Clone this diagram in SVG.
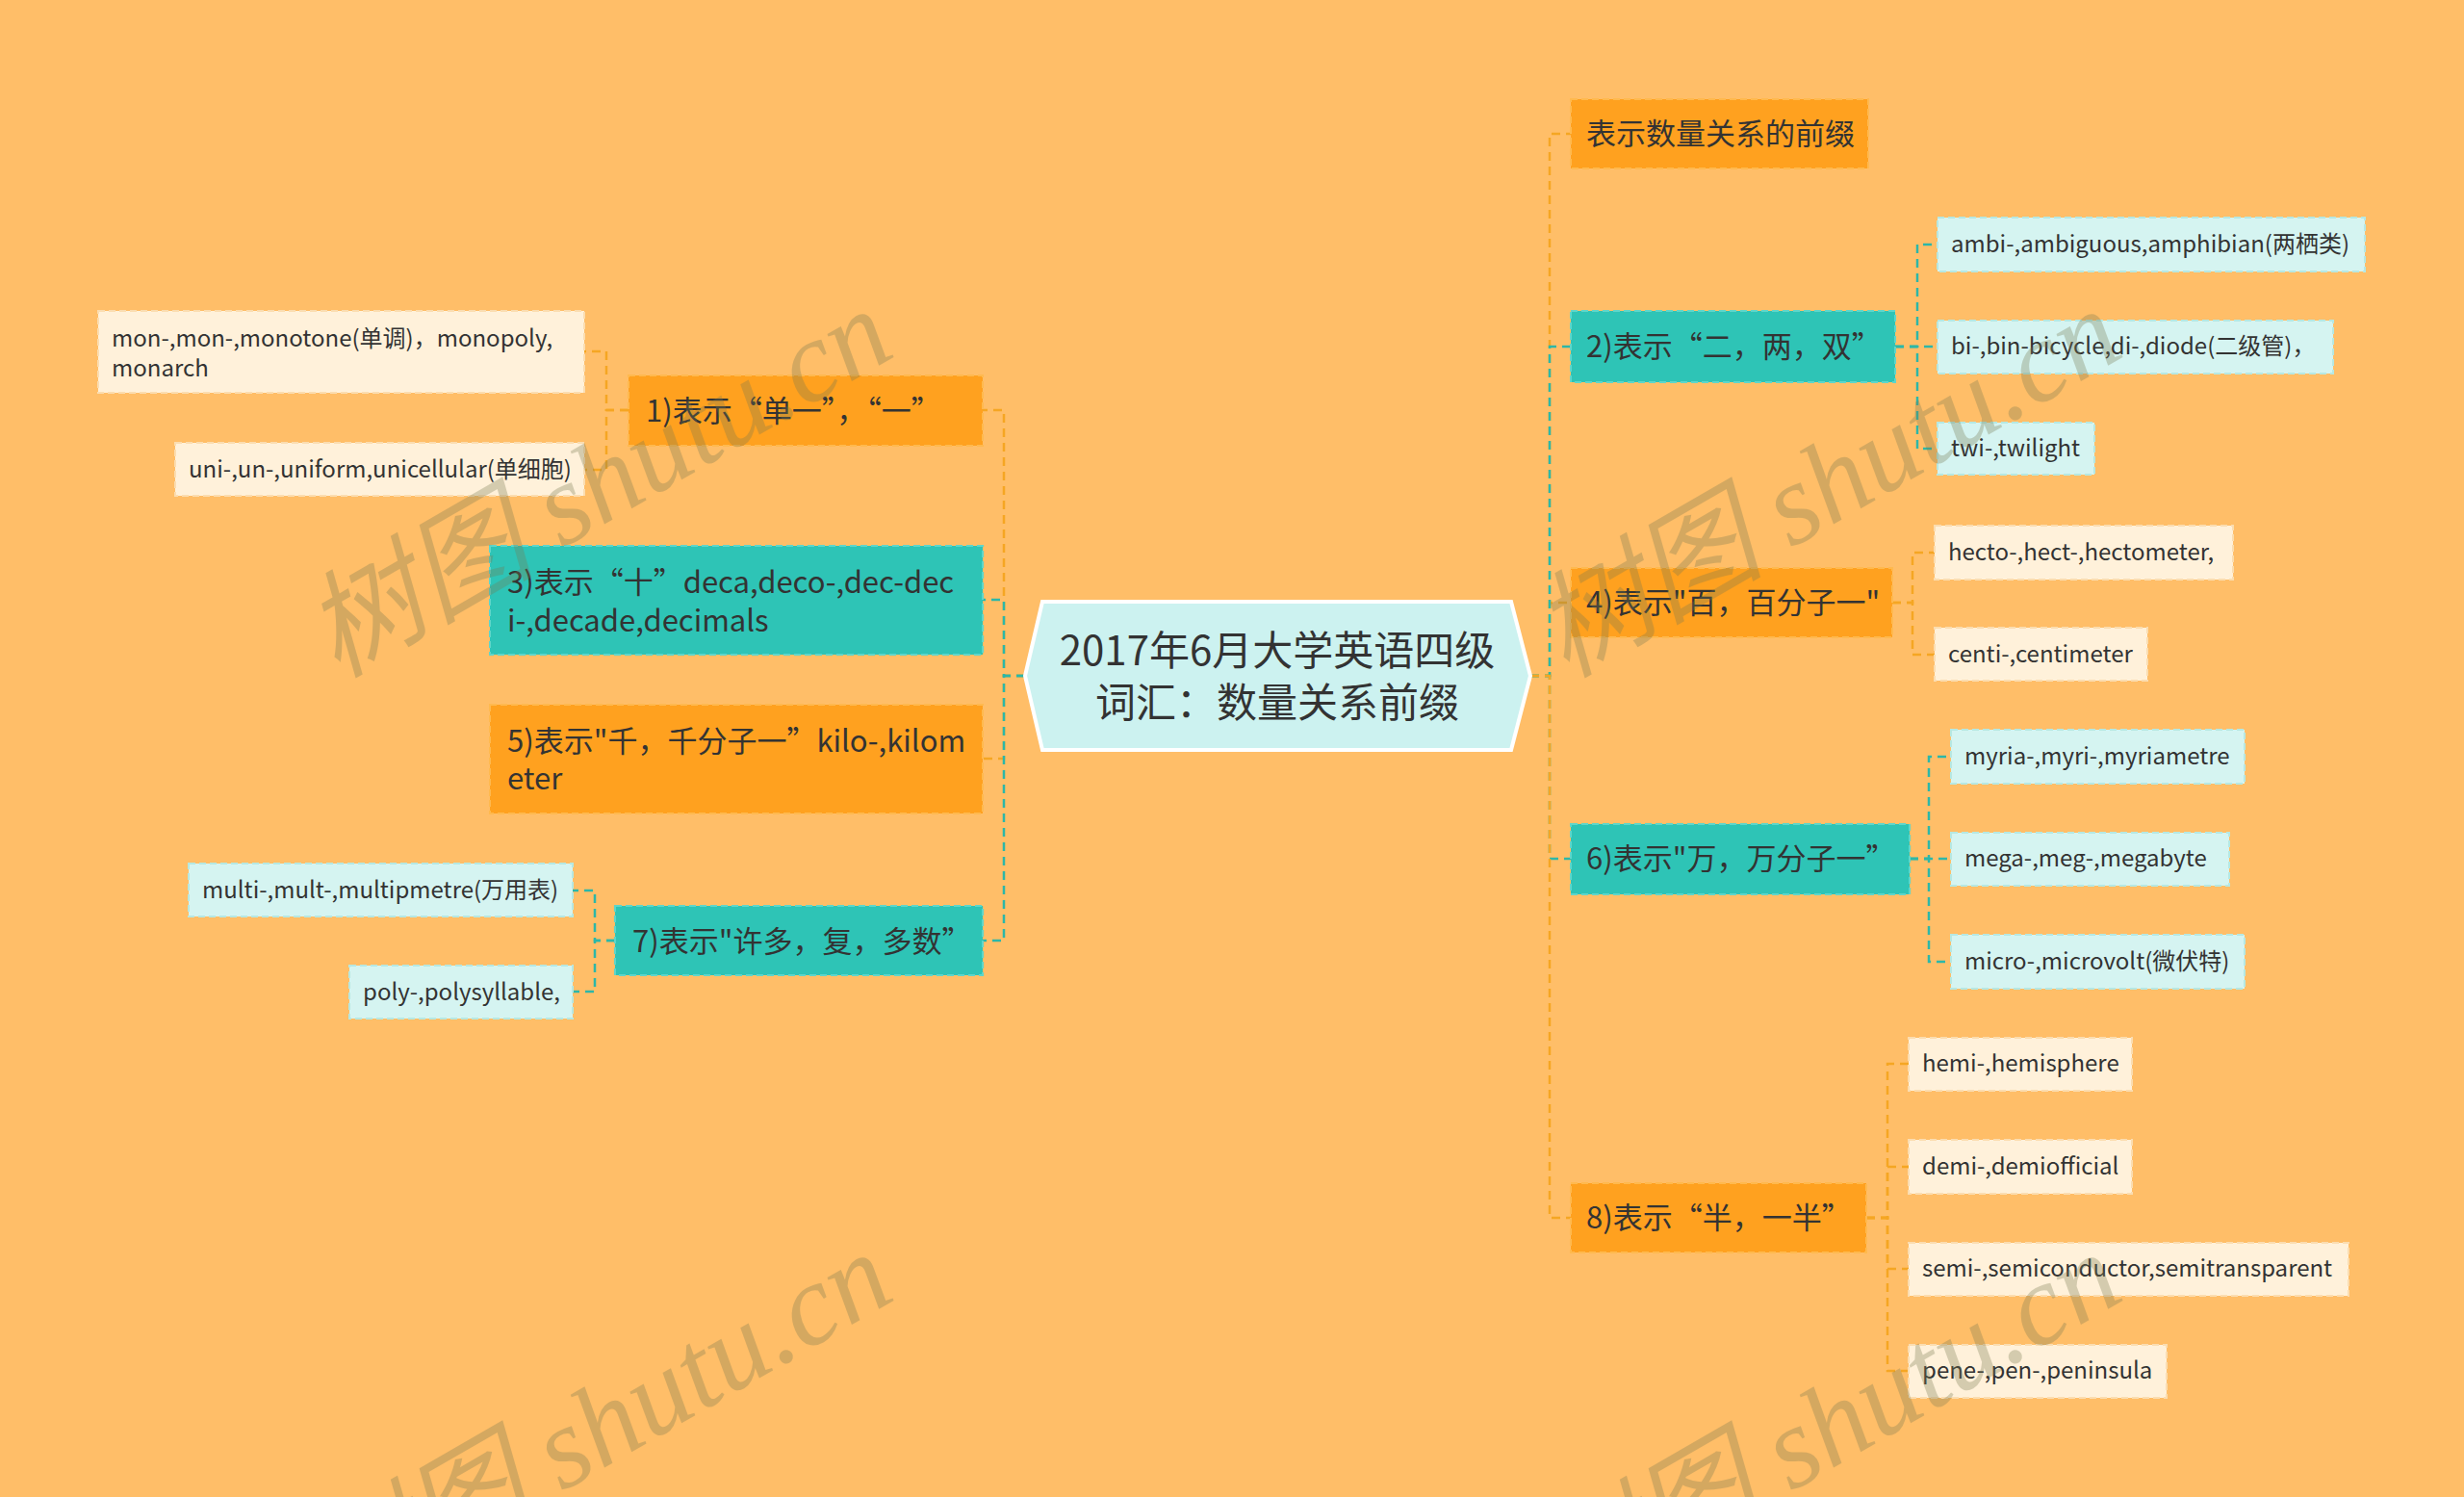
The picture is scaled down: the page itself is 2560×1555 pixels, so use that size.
<svg xmlns="http://www.w3.org/2000/svg" width="2560" height="1555" viewBox="0 0 2560 1555">
<style>
.t{font-family:"Noto Sans CJK SC","Noto Sans",sans-serif;fill:#333;dominant-baseline:central}
.l1{font-size:31px}
.l2{font-size:24px}
.root{font-size:42px}
.or{fill:#FFA11F;stroke:#FFB94E;stroke-width:2;stroke-dasharray:7 4}
.te{fill:#2EC4B6;stroke:#5ED6CA;stroke-width:2;stroke-dasharray:7 4}
.cr{fill:#FFF1DA;stroke:#FBDDB0;stroke-width:2;stroke-dasharray:7 4}
.cy{fill:#D5F4F1;stroke:#B6E8E2;stroke-width:2;stroke-dasharray:7 4}
.co{fill:none;stroke:#F5A623;stroke-width:2.5;stroke-dasharray:9 6}
.ct{fill:none;stroke:#2DB7A8;stroke-width:2.5;stroke-dasharray:9 6}
.wm{font-family:"Liberation Serif","Noto Sans CJK SC",serif;font-style:italic;font-size:120px;fill:#787850;opacity:0.31}
</style>
<rect x="0" y="0" width="2560" height="1555" fill="#FFBE68"/>

<g id="connectors">
<path class="co" d="M1065,702 H1043 V426 H1021"/>
<path class="co" d="M1065,702 H1043 V788 H1021"/>
<path class="ct" d="M1065,702 H1043 V623 H1021"/>
<path class="ct" d="M1065,702 H1043 V977 H1021"/>
<path class="co" d="M1590,702 H1610 V139 H1632"/>
<path class="co" d="M1590,702 H1610 V626 H1632"/>
<path class="ct" d="M1590,702 H1610 V360 H1632"/>
<path class="ct" d="M1590,702 H1610 V892 H1632"/>
<path class="co" d="M1590,702 H1610 V1265 H1632"/>
<path class="co" d="M653,426 H630 V365 H607"/>
<path class="co" d="M653,426 H630 V488 H607"/>
<path class="ct" d="M639,977 H618 V925 H595"/>
<path class="ct" d="M639,977 H618 V1030 H595"/>
<path class="ct" d="M1969,360 H1992 V254 H2013"/>
<path class="ct" d="M1969,360 H1992 V360 H2013"/>
<path class="ct" d="M1969,360 H1992 V466 H2013"/>
<path class="co" d="M1966,626 H1987 V574 H2010"/>
<path class="co" d="M1966,626 H1987 V680 H2010"/>
<path class="ct" d="M1984,892 H2004 V786 H2027"/>
<path class="ct" d="M1984,892 H2004 V892 H2027"/>
<path class="ct" d="M1984,892 H2004 V999 H2027"/>
<path class="co" d="M1939,1265 H1961 V1105 H1983"/>
<path class="co" d="M1939,1265 H1961 V1212 H1983"/>
<path class="co" d="M1939,1265 H1961 V1318 H1983"/>
<path class="co" d="M1939,1265 H1961 V1424 H1983"/>
</g>

<g id="root">
<polygon points="1065,702 1083,625 1570,625 1590,702 1570,779 1083,779" fill="#CCF2F0" stroke="#FFFFFF" stroke-width="4"/>
<text class="t root" x="1327" y="672" text-anchor="middle">2017年6月大学英语四级</text>
<text class="t root" x="1327" y="726" text-anchor="middle">词汇：数量关系前缀</text>
</g>

<g id="n1"><rect class="or" x="653" y="390" width="368" height="73"/><text class="t l1" x="671" y="424">1)表示“单一”，“一”</text></g>
<g id="n3"><rect class="te" x="509" y="567" width="512" height="113"/><text class="t l1" x="527" y="602">3)表示“十”deca,deco-,dec-dec</text><text class="t l1" x="527" y="642">i-,decade,decimals</text></g>
<g id="n5"><rect class="or" x="509" y="732" width="512" height="113"/><text class="t l1" x="527" y="767">5)表示"千，千分子一”kilo-,kilom</text><text class="t l1" x="527" y="806">eter</text></g>
<g id="n7"><rect class="te" x="639" y="941" width="382" height="72"/><text class="t l1" x="657" y="975">7)表示"许多，复，多数”</text></g>

<g id="c1a"><rect class="cr" x="102" y="323" width="505" height="85"/><text class="t l2" x="116" y="349">mon-,mon-,monotone(单调)，monopoly,</text><text class="t l2" x="116" y="380">monarch</text></g>
<g id="c1b"><rect class="cr" x="182" y="460" width="425" height="55"/><text class="t l2" x="196" y="485">uni-,un-,uniform,unicellular(单细胞)</text></g>
<g id="c7a"><rect class="cy" x="196" y="897" width="399" height="55"/><text class="t l2" x="210" y="922">multi-,mult-,multipmetre(万用表)</text></g>
<g id="c7b"><rect class="cy" x="363" y="1003" width="232" height="55"/><text class="t l2" x="377" y="1028">poly-,polysyllable,</text></g>

<g id="r0"><rect class="or" x="1632" y="103" width="309" height="72"/><text class="t l1" x="1648" y="136">表示数量关系的前缀</text></g>
<g id="r2"><rect class="te" x="1632" y="323" width="337" height="74"/><text class="t l1" x="1648" y="357">2)表示“二，两，双”</text></g>
<g id="r2a"><rect class="cy" x="2013" y="226" width="444" height="56"/><text class="t l2" x="2027" y="251">ambi-,ambiguous,amphibian(两栖类)</text></g>
<g id="r2b"><rect class="cy" x="2013" y="333" width="411" height="55"/><text class="t l2" x="2027" y="357">bi-,bin-bicycle,di-,diode(二级管)，</text></g>
<g id="r2c"><rect class="cy" x="2013" y="439" width="163" height="54"/><text class="t l2" x="2027" y="463">twi-,twilight</text></g>
<g id="r4"><rect class="or" x="1632" y="590" width="334" height="72"/><text class="t l1" x="1648" y="623">4)表示"百，百分子一"</text></g>
<g id="r4a"><rect class="cr" x="2010" y="546" width="310" height="56"/><text class="t l2" x="2024" y="571">hecto-,hect-,hectometer,</text></g>
<g id="r4b"><rect class="cr" x="2010" y="652" width="221" height="55"/><text class="t l2" x="2024" y="677">centi-,centimeter</text></g>
<g id="r6"><rect class="te" x="1632" y="856" width="352" height="73"/><text class="t l1" x="1648" y="889">6)表示"万，万分子一”</text></g>
<g id="r6a"><rect class="cy" x="2027" y="758" width="305" height="56"/><text class="t l2" x="2041" y="783">myria-,myri-,myriametre</text></g>
<g id="r6b"><rect class="cy" x="2027" y="865" width="289" height="55"/><text class="t l2" x="2041" y="889">mega-,meg-,megabyte</text></g>
<g id="r6c"><rect class="cy" x="2027" y="971" width="305" height="56"/><text class="t l2" x="2041" y="996">micro-,microvolt(微伏特)</text></g>
<g id="r8"><rect class="or" x="1632" y="1229" width="307" height="72"/><text class="t l1" x="1648" y="1262">8)表示“半，一半”</text></g>
<g id="r8a"><rect class="cr" x="1983" y="1078" width="232" height="55"/><text class="t l2" x="1997" y="1102">hemi-,hemisphere</text></g>
<g id="r8b"><rect class="cr" x="1983" y="1184" width="232" height="56"/><text class="t l2" x="1997" y="1209">demi-,demiofficial</text></g>
<g id="r8c"><rect class="cr" x="1983" y="1291" width="457" height="55"/><text class="t l2" x="1997" y="1315">semi-,semiconductor,semitransparent</text></g>
<g id="r8d"><rect class="cr" x="1983" y="1397" width="268" height="55"/><text class="t l2" x="1997" y="1421">pene-,pen-,peninsula</text></g>

<g id="watermarks">
<text class="wm" x="350" y="705" transform="rotate(-30 350 705)">树图 shutu.cn</text>
<text class="wm" x="1627" y="705" transform="rotate(-30 1627 705)">树图 shutu.cn</text>
<text class="wm" x="350" y="1685" transform="rotate(-30 350 1685)">树图 shutu.cn</text>
<text class="wm" x="1627" y="1685" transform="rotate(-30 1627 1685)">树图 shutu.cn</text>
</g>
</svg>
